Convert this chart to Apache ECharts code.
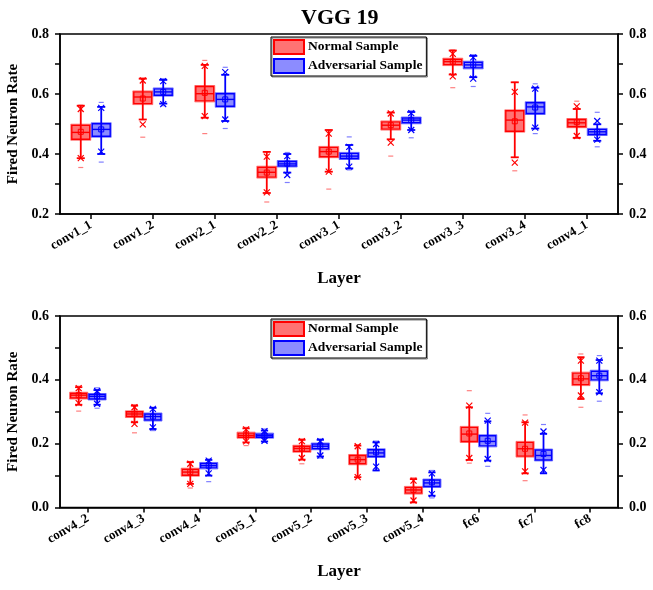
<!DOCTYPE html>
<html>
<head>
<meta charset="utf-8">
<script src="https://cdn.jsdelivr.net/npm/echarts@6/dist/echarts.min.js"></script>
<style>
  html, body { margin: 0; padding: 0; background: #fff; }
  #chart { width: 653px; height: 590px; }
</style>
</head>
<body>
<div id="chart"></div>
<script>
// layer names
const layersTop = ['conv1_1', 'conv1_2', 'conv2_1', 'conv2_2', 'conv3_1', 'conv3_2', 'conv3_3', 'conv3_4', 'conv4_1'];
const layersBottom = ['conv4_2', 'conv4_3', 'conv4_4', 'conv5_1', 'conv5_2', 'conv5_3', 'conv5_4', 'fc6', 'fc7', 'fc8'];

// row = [min, xLow, whiskerLow, q1, median, q3, whiskerHigh, xHigh, max, mean]
const topNormal = [
  [0.355, 0.386, 0.386, 0.449, 0.472, 0.496, 0.561, 0.550, 0.563, 0.474],
  [0.456, 0.499, 0.515, 0.568, 0.590, 0.607, 0.651, 0.645, 0.653, 0.585],
  [0.468, 0.526, 0.521, 0.577, 0.601, 0.625, 0.697, 0.694, 0.712, 0.604],
  [0.240, 0.272, 0.270, 0.323, 0.339, 0.356, 0.407, 0.391, 0.407, 0.338],
  [0.283, 0.341, 0.341, 0.391, 0.408, 0.422, 0.480, 0.468, 0.480, 0.408],
  [0.393, 0.438, 0.449, 0.483, 0.496, 0.507, 0.538, 0.535, 0.540, 0.496],
  [0.621, 0.659, 0.665, 0.698, 0.708, 0.716, 0.745, 0.734, 0.747, 0.708],
  [0.344, 0.371, 0.389, 0.476, 0.513, 0.544, 0.639, 0.607, 0.639, 0.509],
  [0.454, 0.460, 0.454, 0.491, 0.504, 0.515, 0.550, 0.559, 0.576, 0.506]
];
const topAdv = [
  [0.373, 0.408, 0.400, 0.459, 0.482, 0.501, 0.557, 0.554, 0.572, 0.482],
  [0.561, 0.566, 0.568, 0.596, 0.607, 0.617, 0.647, 0.643, 0.651, 0.607],
  [0.485, 0.515, 0.510, 0.559, 0.582, 0.601, 0.664, 0.673, 0.689, 0.582],
  [0.305, 0.330, 0.338, 0.360, 0.367, 0.375, 0.400, 0.393, 0.405, 0.368],
  [0.347, 0.358, 0.352, 0.385, 0.393, 0.402, 0.430, 0.424, 0.457, 0.393],
  [0.454, 0.480, 0.480, 0.504, 0.513, 0.520, 0.540, 0.536, 0.544, 0.513],
  [0.625, 0.651, 0.656, 0.687, 0.697, 0.706, 0.727, 0.722, 0.731, 0.697],
  [0.468, 0.488, 0.485, 0.535, 0.557, 0.571, 0.621, 0.618, 0.634, 0.555],
  [0.424, 0.448, 0.444, 0.465, 0.474, 0.482, 0.499, 0.510, 0.539, 0.474]
];
const bottomNormal = [
  [0.302, 0.327, 0.322, 0.343, 0.352, 0.358, 0.377, 0.374, 0.380, 0.352],
  [0.234, 0.262, 0.267, 0.285, 0.293, 0.300, 0.319, 0.314, 0.322, 0.293],
  [0.061, 0.074, 0.074, 0.101, 0.111, 0.120, 0.142, 0.137, 0.144, 0.111],
  [0.194, 0.207, 0.204, 0.220, 0.226, 0.233, 0.248, 0.245, 0.251, 0.226],
  [0.137, 0.155, 0.150, 0.176, 0.185, 0.192, 0.212, 0.208, 0.215, 0.185],
  [0.093, 0.095, 0.095, 0.137, 0.150, 0.163, 0.194, 0.192, 0.196, 0.150],
  [0.016, 0.022, 0.016, 0.045, 0.055, 0.063, 0.089, 0.084, 0.093, 0.055],
  [0.139, 0.155, 0.149, 0.207, 0.230, 0.251, 0.314, 0.319, 0.366, 0.232],
  [0.084, 0.113, 0.107, 0.161, 0.184, 0.204, 0.267, 0.266, 0.290, 0.184],
  [0.314, 0.351, 0.340, 0.385, 0.403, 0.421, 0.471, 0.460, 0.481, 0.405]
];
const bottomAdv = [
  [0.311, 0.325, 0.322, 0.340, 0.348, 0.354, 0.368, 0.365, 0.375, 0.348],
  [0.241, 0.251, 0.246, 0.274, 0.285, 0.293, 0.312, 0.309, 0.314, 0.285],
  [0.081, 0.107, 0.100, 0.124, 0.131, 0.138, 0.149, 0.147, 0.152, 0.131],
  [0.204, 0.209, 0.207, 0.220, 0.225, 0.230, 0.241, 0.239, 0.246, 0.225],
  [0.155, 0.163, 0.160, 0.184, 0.192, 0.199, 0.212, 0.208, 0.215, 0.192],
  [0.116, 0.128, 0.116, 0.160, 0.171, 0.181, 0.204, 0.199, 0.208, 0.173],
  [0.030, 0.042, 0.037, 0.066, 0.077, 0.086, 0.110, 0.107, 0.116, 0.079],
  [0.129, 0.152, 0.147, 0.193, 0.207, 0.225, 0.270, 0.272, 0.295, 0.209],
  [0.107, 0.118, 0.107, 0.149, 0.163, 0.180, 0.231, 0.238, 0.260, 0.168],
  [0.333, 0.361, 0.358, 0.400, 0.413, 0.427, 0.462, 0.460, 0.476, 0.413]
];

const FONT = 'Liberation Serif';
const RED = '#ff0000', RED_FILL = 'rgba(255,0,0,0.55)', RED_LIGHT = 'rgba(255,0,0,0.5)';
const BLUE = '#0000ff', BLUE_FILL = 'rgba(0,0,255,0.45)', BLUE_LIGHT = 'rgba(0,0,255,0.5)';

var myChart = echarts.init(document.getElementById('chart'));

// one box per data item, drawn with the axis scales
function makeRender(color, fill, light, side) {
  return function (params, api) {
    const ci = api.value(0);
    const band = api.size([1, 0])[0];
    const x = api.coord([ci, api.value(5)])[0] + side * band * 0.165;
    const bw = band * 0.29;
    const cw = band * 0.13;
    const y = k => api.coord([ci, api.value(k)])[1];
    const hline = (yy, w, c, lw) => ({
      type: 'line', shape: {x1: x - w / 2, y1: yy, x2: x + w / 2, y2: yy},
      style: {stroke: c, lineWidth: lw}
    });
    const cross = (yy) => {
      const s = 3;
      return {
        type: 'group', children: [
          {type: 'line', shape: {x1: x - s, y1: yy - s, x2: x + s, y2: yy + s}, style: {stroke: color, lineWidth: 1.2}},
          {type: 'line', shape: {x1: x - s, y1: yy + s, x2: x + s, y2: yy - s}, style: {stroke: color, lineWidth: 1.2}}
        ]
      };
    };
    return {
      type: 'group',
      children: [
        {type: 'line', shape: {x1: x, y1: y(3), x2: x, y2: y(7)}, style: {stroke: color, lineWidth: 1.8}},
        hline(y(3), cw, color, 1.8),
        hline(y(7), cw, color, 1.8),
        {type: 'rect', shape: {x: x - bw / 2 - 1, y: y(6) - 1, width: bw + 2, height: y(4) - y(6) + 2},
          style: {fill: 'none', stroke: light, lineWidth: 1}},
        {type: 'rect', shape: {x: x - bw / 2, y: y(6), width: bw, height: y(4) - y(6)},
          style: {fill: fill, stroke: color, lineWidth: 1.4}},
        hline(y(5), bw, color, 1.4),
        {type: 'rect', shape: {x: x - 2.5, y: y(10) - 2.5, width: 5, height: 5},
          style: {fill: 'none', stroke: color, lineWidth: 1}},
        cross(y(2)),
        cross(y(8)),
        hline(y(1), 5, light, 1.2),
        hline(y(9), 5, light, 1.2)
      ]
    };
  };
}

function toData(rows) {
  return rows.map((r, i) => [i].concat(r));
}

function boxSeries(name, idx, rows, color, fill, light, side) {
  return {
    name: name,
    type: 'custom',
    xAxisIndex: idx,
    yAxisIndex: idx * 2,
    itemStyle: {color: fill, borderColor: color, borderWidth: 1.5},
    encode: {x: 0, y: [1, 9]},
    renderItem: makeRender(color, fill, light, side),
    data: toData(rows)
  };
}

const labelFmt = v => (Math.round(v * 10) % 2 === 0 ? v.toFixed(1) : '');

function xAxisOf(idx, cats) {
  return {
    gridIndex: idx, type: 'category', data: cats,
    axisLine: {show: true, lineStyle: {color: '#000', width: 1.5}},
    axisTick: {show: true, alignWithLabel: true, length: 5, lineStyle: {color: '#000', width: 1.5}},
    axisLabel: {rotate: 30, margin: 10, color: '#000', fontFamily: FONT, fontWeight: 'bold', fontSize: 13, interval: 0},
    name: 'Layer', nameLocation: 'middle', nameGap: 56,
    nameTextStyle: {color: '#000', fontFamily: FONT, fontWeight: 'bold', fontSize: 17}
  };
}

function yAxisOf(idx, min, max, pos) {
  const ax = {
    gridIndex: idx, type: 'value', position: pos, min: min, max: max, interval: 0.1,
    axisLine: {show: true, lineStyle: {color: '#000', width: 1.5}},
    axisTick: {show: true, length: 5, lineStyle: {color: '#000', width: 1.5}},
    axisLabel: {formatter: labelFmt, margin: 11, color: '#000', fontFamily: FONT, fontWeight: 'bold', fontSize: 14},
    splitLine: {show: false}
  };
  if (pos === 'left') {
    ax.name = 'Fired Neuron Rate';
    ax.nameLocation = 'middle';
    ax.nameGap = 37;
    ax.nameTextStyle = {color: '#000', fontFamily: FONT, fontWeight: 'bold', fontSize: 15};
  }
  return ax;
}

function legendOf(top) {
  return {
    data: ['Normal Sample', 'Adversarial Sample'],
    orient: 'vertical', left: 271, top: top,
    icon: 'rect', itemWidth: 30, itemHeight: 14, itemGap: 3,
    padding: [2, 4, 2, 2],
    borderColor: '#000', borderWidth: 1,
    shadowColor: 'rgba(0,0,0,0.5)', shadowOffsetX: 1, shadowOffsetY: 1,
    textStyle: {color: '#000', fontFamily: FONT, fontWeight: 'bold', fontSize: 13.5, padding: [0, 0, 0, -1]}
  };
}

var option = {
  backgroundColor: '#fff',
  animation: false,
  title: {
    text: 'VGG 19', left: 296, top: 2,
    textStyle: {color: '#000', fontFamily: FONT, fontWeight: 'bold', fontSize: 22}
  },
  legend: [legendOf(37), legendOf(319)],
  grid: [
    {left: 60, right: 35, top: 34, height: 180, show: true, borderColor: '#000', borderWidth: 1.5, containLabel: false, outerBoundsMode: 'none'},
    {left: 60, right: 35, top: 316, height: 191.5, show: true, borderColor: '#000', borderWidth: 1.5, containLabel: false, outerBoundsMode: 'none'}
  ],
  xAxis: [xAxisOf(0, layersTop), xAxisOf(1, layersBottom)],
  yAxis: [
    yAxisOf(0, 0.2, 0.8, 'left'), yAxisOf(0, 0.2, 0.8, 'right'),
    yAxisOf(1, 0, 0.6, 'left'), yAxisOf(1, 0, 0.6, 'right')
  ],
  series: [
    boxSeries('Normal Sample', 0, topNormal, RED, RED_FILL, RED_LIGHT, -1),
    boxSeries('Adversarial Sample', 0, topAdv, BLUE, BLUE_FILL, BLUE_LIGHT, 1),
    boxSeries('Normal Sample', 1, bottomNormal, RED, RED_FILL, RED_LIGHT, -1),
    boxSeries('Adversarial Sample', 1, bottomAdv, BLUE, BLUE_FILL, BLUE_LIGHT, 1)
  ]
};

myChart.setOption(option);
</script>
</body>
</html>
